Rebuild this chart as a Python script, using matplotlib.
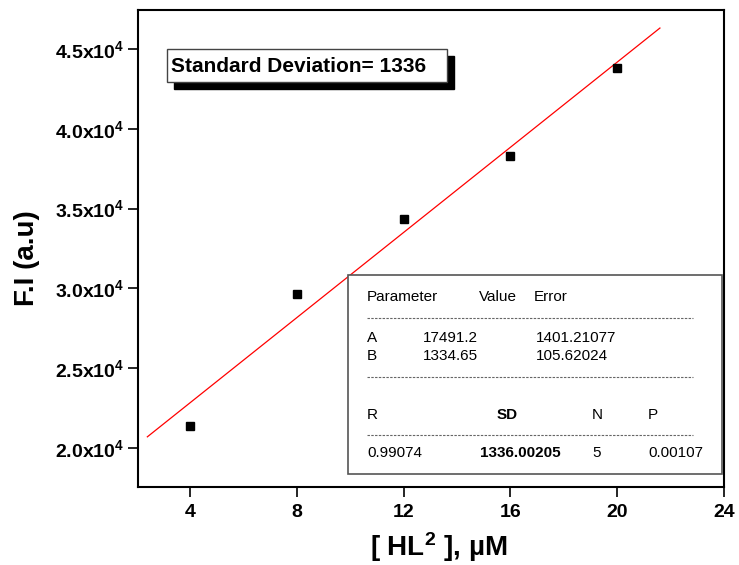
import numpy as np
import matplotlib
matplotlib.use("Agg")
import matplotlib.pyplot as plt
from matplotlib.patches import Rectangle

plt.rcParams['font.family'] = ['Liberation Sans', 'DejaVu Sans']
plt.rcParams['mathtext.default'] = 'regular'

# data
conc = [4, 8, 12, 16, 20]
fi = [21400, 29650, 34320, 38320, 43840]

# fit results shown in the chart
fit_a = 17491.2
fit_b = 1334.65
fit_x = [2.4, 21.6]

x_ticks = [4, 8, 12, 16, 20, 24]
y_ticks = [20000, 25000, 30000, 35000, 40000, 45000]
y_tick_labels = ['2.0x10$^4$', '2.5x10$^4$', '3.0x10$^4$', '3.5x10$^4$', '4.0x10$^4$', '4.5x10$^4$']

sd_text = 'Standard Deviation= 1336'

param_rows = [('A', '17491.2', '1401.21077'),
              ('B', '1334.65', '105.62024')]
stat_head = ['R', 'SD', 'N', 'P']
stat_vals = ['0.99074', '1336.00205', '5', '0.00107']

W, H = 739, 565
fig = plt.figure(figsize=(W / 100, H / 100), dpi=100)
ax = fig.add_axes([138 / W, 1 - 487 / H, (724 - 138) / W, (487 - 10) / H])


def px(x, y):
    # pixel position in the image -> figure fraction
    return x / W, 1 - y / H


xs = np.array(fit_x)
ax.plot(xs, fit_a + fit_b * xs, color='red', lw=0.9, zorder=2)
ax.plot(conc, fi, 's', color='black', ms=6, zorder=3)

ax.set_xlim(2.05, 24)
ax.set_ylim(17550, 47450)
ax.set_xticks(x_ticks)
ax.set_yticks(y_ticks)
ax.set_yticklabels(y_tick_labels)
for lab in ax.get_xticklabels() + ax.get_yticklabels():
    lab.set_fontweight('bold')
    lab.set_fontsize(14)
ax.tick_params(direction='out', length=7, width=1.2, top=False, right=False)
ax.tick_params(axis='x', pad=5)
ax.tick_params(axis='y', pad=3)
for sp in ax.spines.values():
    sp.set_linewidth(1.5)

fig.text(*px(27, 258), 'F.I (a.u)', rotation=90, fontsize=20, fontweight='bold',
         ha='center', va='center')
fig.text(*px(439, 547), '[ HL$^2$ ], µM', fontsize=20, fontweight='bold',
         ha='center', va='center')

# standard deviation label with black drop shadow
bx0, by0 = px(167, 82)
bw, bh = (447 - 167) / W, (82 - 49) / H
fig.patches.append(Rectangle((bx0 + 7 / W, by0 - 7 / H), bw, bh, transform=fig.transFigure,
                             facecolor='black', edgecolor='black', zorder=4))
fig.patches.append(Rectangle((bx0, by0), bw, bh, transform=fig.transFigure,
                             facecolor='white', edgecolor='#444444', lw=1, zorder=5))
fig.text(*px(171, 66), sd_text, fontsize=15, fontweight='bold', ha='left', va='center', zorder=6)

# fit parameter table
tx0, ty0 = px(348, 474)
fig.patches.append(Rectangle((tx0, ty0), (722 - 348) / W, (474 - 275) / H,
                             transform=fig.transFigure, facecolor='white',
                             edgecolor='#555555', lw=1.2, zorder=4))
fs = 11
col_x = [367, 423, 479, 536]
fig.text(*px(367, 297), 'Parameter', fontsize=fs, va='center', zorder=6)
fig.text(*px(479, 297), 'Value', fontsize=fs, va='center', zorder=6)
fig.text(*px(534, 297), 'Error', fontsize=fs, va='center', zorder=6)
for i, (name, val, err) in enumerate(param_rows):
    yy = 338 + i * 18
    fig.text(*px(367, yy), name, fontsize=fs, va='center', zorder=6)
    fig.text(*px(423, yy), val, fontsize=fs, va='center', zorder=6)
    fig.text(*px(536, yy), err, fontsize=fs, va='center', zorder=6)

stat_x = [367, 497, 592, 648]
val_x = [367, 480, 592, 648]
for j, h in enumerate(stat_head):
    fig.text(*px(stat_x[j], 415), h, fontsize=fs, va='center', zorder=6,
             fontweight='bold' if h == 'SD' else 'normal')
for j, v in enumerate(stat_vals):
    fig.text(*px(val_x[j], 453), v, fontsize=fs, va='center', zorder=6,
             fontweight='bold' if j == 1 else 'normal')

for yy in [318, 377, 435]:
    x0, y0 = px(367, yy)
    x1, _ = px(693, yy)
    fig.add_artist(plt.Line2D([x0, x1], [y0, y0], transform=fig.transFigure,
                              color='#666666', lw=0.8, ls=(0, (2.2, 1.2)), zorder=6))

fig.savefig('out.png', dpi=100)
